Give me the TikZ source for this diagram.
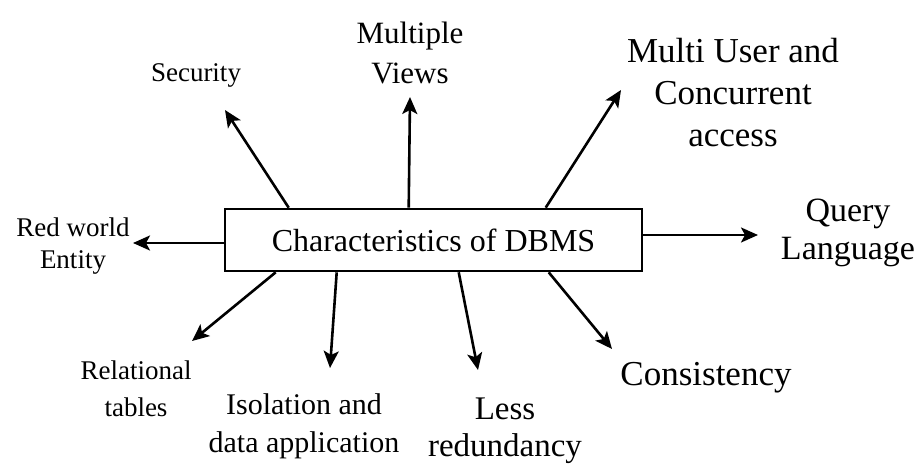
\documentclass[tikz,border=0pt]{standalone}
\usepackage{fontspec}
\setmainfont{Liberation Serif}
\usetikzlibrary{calc,arrows.meta}
\begin{document}
\begin{tikzpicture}[x=1pt,y=-1pt,
  lbl/.style={align=center, inner sep=0pt},
  arr/.style={line width=2.6pt, -{Stealth[length=17pt,width=15pt,inset=4pt]}},
  box/.style={draw, line width=2.6pt, minimum width=417pt, minimum height=62pt, inner sep=0pt, font=\fontsize{32}{38}\selectfont}]
\useasboundingbox (0,0) rectangle (919,468);
\node[box] (c) at (433.5,240) {Characteristics of DBMS};

\node[lbl, font=\fontsize{27}{32}\selectfont] (sec) at (196,75) {Security};
\node[lbl, font=\fontsize{31}{40}\selectfont] (mv) at (410,53) {Multiple\\Views};
\node[lbl, font=\fontsize{35}{42}\selectfont] (mu) at (733,93) {Multi User and\\Concurrent\\access};
\node[lbl, font=\fontsize{34}{38}\selectfont] (ql) at (848,233) {Query\\Language};
\node[lbl, font=\fontsize{27}{32}\selectfont] (rw) at (73,246) {Red world\\Entity};
\node[lbl, font=\fontsize{27}{37}\selectfont] (rt) at (136,389) {Relational\\tables};
\node[lbl, font=\fontsize{30}{38}\selectfont] (iso) at (304,426) {Isolation and\\data application};
\node[lbl, font=\fontsize{33}{37}\selectfont] (lr) at (505,431) {Less\\redundancy};
\node[lbl, font=\fontsize{35}{40}\selectfont] (con) at (706,378) {Consistency};

\coordinate (s1) at ($(c.north west)+(65,0)$);
\coordinate (s2) at ($(c.north west)+(185,0)$);
\coordinate (s3) at ($(c.north west)+(322,0)$);
\coordinate (s4) at ($(c.east)+(0,-5)$);
\coordinate (s5) at ($(c.west)+(0,3)$);
\coordinate (s6) at ($(c.south west)+(52,0)$);
\coordinate (s7) at ($(c.south west)+(113,0)$);
\coordinate (s8) at ($(c.south west)+(235,0)$);
\coordinate (s9) at ($(c.south west)+(325,0)$);

\coordinate (t1) at (225,110);
\coordinate (t2) at (410,97);
\coordinate (t3) at (621,90);
\coordinate (t4) at (758,235);
\coordinate (t5) at (133,243);
\coordinate (t6) at (192,341);
\coordinate (t7) at (330,368);
\coordinate (t8) at (478,370);
\coordinate (t9) at (612,349);

\draw[arr] (s1) -- (t1);
\draw[arr] (s2) -- (t2);
\draw[arr] (s3) -- (t3);
\draw[arr] (s4) -- (t4);
\draw[arr] (s5) -- (t5);
\draw[arr] (s6) -- (t6);
\draw[arr] (s7) -- (t7);
\draw[arr] (s8) -- (t8);
\draw[arr] (s9) -- (t9);
\end{tikzpicture}
\end{document}
